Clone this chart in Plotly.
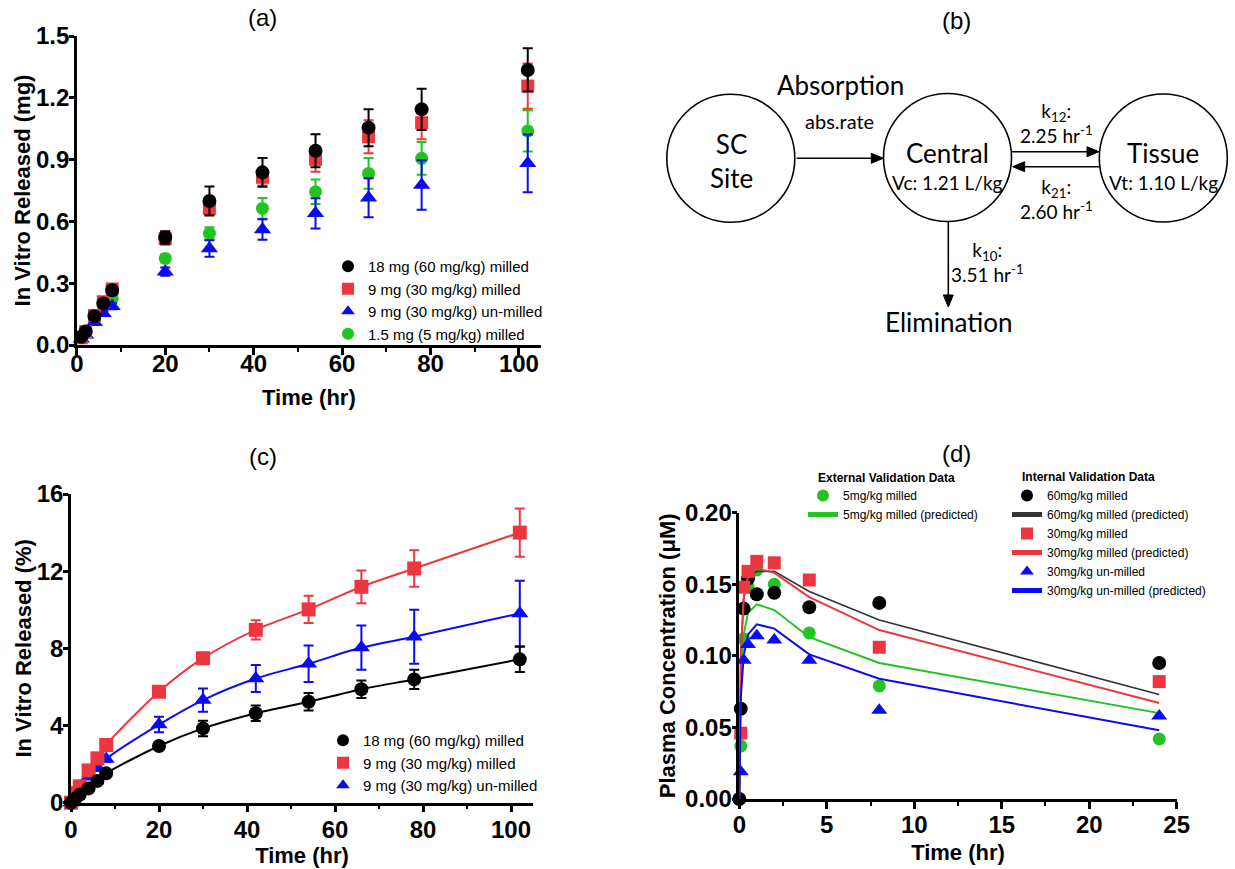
import plotly.graph_objects as go

W, H = 1235, 869

# ---------------- Panel (a): in vitro released (mg) ----------------
time_a = [1, 2, 4, 6, 8, 20, 30, 42, 54, 66, 78, 102]
a_labels = ["18 mg (60 mg/kg) milled", "9 mg (30 mg/kg) milled",
            "9 mg (30 mg/kg) un-milled", "1.5 mg (5 mg/kg) milled"]
a_black = [0.040, 0.066, 0.140, 0.202, 0.266, 0.522, 0.699, 0.838, 0.943, 1.055, 1.144, 1.335]
a_black_err = [0.005, 0.01, 0.01, 0.015, 0.02, 0.03, 0.07, 0.07, 0.08, 0.09, 0.10, 0.105]
a_red = [0.035, 0.065, 0.143, 0.210, 0.272, 0.517, 0.663, 0.814, 0.901, 1.011, 1.079, 1.257]
a_red_err = [0.005, 0.01, 0.01, 0.015, 0.02, 0.03, 0.03, 0.04, 0.06, 0.08, 0.08, 0.11]
a_blue = [0.030, 0.050, 0.110, 0.154, 0.188, 0.356, 0.469, 0.561, 0.639, 0.715, 0.777, 0.882]
a_blue_err = [0.005, 0.01, 0.01, 0.01, 0.015, 0.02, 0.04, 0.05, 0.073, 0.095, 0.12, 0.14]
a_green = [0.035, 0.060, 0.130, 0.190, 0.227, 0.420, 0.542, 0.663, 0.744, 0.833, 0.906, 1.039]
a_green_err = [0.005, 0.01, 0.01, 0.01, 0.015, 0.02, 0.03, 0.05, 0.06, 0.075, 0.08, 0.10]

# ---------------- Panel (c): in vitro released (%) ----------------
time_c = [0, 1, 2, 4, 6, 8, 20, 30, 42, 54, 66, 78, 102]
c_labels = ["18 mg (60 mg/kg) milled", "9 mg (30 mg/kg) milled", "9 mg (30 mg/kg) un-milled"]
c_black = [0, 0.22, 0.42, 0.74, 1.13, 1.52, 2.94, 3.85, 4.64, 5.23, 5.88, 6.39, 7.43]
c_black_err = [0, 0.05, 0.05, 0.08, 0.10, 0.12, 0.15, 0.40, 0.40, 0.45, 0.45, 0.50, 0.65]
c_red = [0, 0.50, 0.85, 1.67, 2.30, 2.99, 5.75, 7.49, 8.96, 10.02, 11.19, 12.14, 14.0]
c_red_err = [0, 0.05, 0.05, 0.10, 0.10, 0.15, 0.25, 0.25, 0.50, 0.70, 0.85, 0.95, 1.25]
c_blue = [0, 0.40, 0.74, 1.35, 1.78, 2.27, 4.05, 5.32, 6.44, 7.20, 8.04, 8.60, 9.81]
c_blue_err = [0, 0.05, 0.05, 0.10, 0.10, 0.15, 0.40, 0.60, 0.70, 0.95, 1.15, 1.40, 1.70]

# ---------------- Panel (d): plasma concentration ----------------
time_d = [0, 0.083, 0.25, 0.5, 1, 2, 4, 8, 24]
d_black = [0, 0.063, 0.133, 0.154, 0.143, 0.144, 0.134, 0.137, 0.095]
d_red = [None, 0.046, 0.148, 0.159, 0.166, 0.165, 0.153, 0.106, 0.082]
d_green = [None, 0.037, 0.112, 0.148, 0.160, 0.150, 0.116, 0.079, 0.042]
d_blue = [None, 0.019, 0.097, 0.108, 0.114, 0.111, 0.097, 0.062, 0.058]
d_black_pred = [0, 0.100, 0.140, 0.155, 0.159, 0.159, 0.145, 0.125, 0.073]
d_red_pred = [0, 0.100, 0.140, 0.156, 0.161, 0.158, 0.141, 0.118, 0.067]
d_green_pred = [0, 0.080, 0.115, 0.130, 0.136, 0.132, 0.113, 0.095, 0.060]
d_blue_pred = [0, 0.070, 0.100, 0.115, 0.122, 0.119, 0.101, 0.084, 0.048]
d_ext_labels = ["5mg/kg milled", "5mg/kg milled (predicted)"]
d_int_labels = ["60mg/kg milled", "60mg/kg milled (predicted)", "30mg/kg milled",
                "30mg/kg milled (predicted)", "30mg/kg un-milled", "30mg/kg un-milled (predicted)"]

BLACK = "#000000"
RED = "#EE3640"
BLUE = "#0A0AF5"
GREEN = "#22C422"
ARIAL = "Liberation Sans, Arial, sans-serif"
DIAG = "Lato, Noto Sans, sans-serif"

fig = go.Figure()


def add_points(x, y, err, color, symbol, size, name, xa, ya, legend, showlegend=True):
    fig.add_trace(go.Scatter(
        x=x, y=y, mode="markers", name=name, xaxis=xa, yaxis=ya, legend=legend,
        showlegend=showlegend, cliponaxis=False,
        marker=dict(symbol=symbol, size=size, color=color, line=dict(width=0)),
        error_y=(dict(type="data", array=err, visible=True, color=color, thickness=2, width=5)
                 if err is not None else None),
    ))


# panel (a) traces (drawn so black sits on top)
add_points(time_a, a_green, a_green_err, GREEN, "circle", 13, a_labels[3], "x", "y", "legend")
add_points(time_a, a_blue, a_blue_err, BLUE, "triangle-up", 15, a_labels[2], "x", "y", "legend")
add_points(time_a, a_red, a_red_err, RED, "square", 13, a_labels[1], "x", "y", "legend")
add_points(time_a, a_black, a_black_err, BLACK, "circle", 14, a_labels[0], "x", "y", "legend")

# panel (c) fitted lines + points
for yv, col in [(c_black, BLACK), (c_red, RED), (c_blue, BLUE)]:
    fig.add_trace(go.Scatter(x=time_c, y=yv, mode="lines", xaxis="x2", yaxis="y2",
                             line=dict(color=col, width=2, shape="spline", smoothing=0.8),
                             showlegend=False, hoverinfo="skip"))
add_points(time_c, c_blue, c_blue_err, BLUE, "triangle-up", 15, c_labels[2], "x2", "y2", "legend2")
add_points(time_c, c_red, c_red_err, RED, "square", 14, c_labels[1], "x2", "y2", "legend2")
add_points(time_c, c_black, c_black_err, BLACK, "circle", 14, c_labels[0], "x2", "y2", "legend2")

# panel (d)
fig.add_trace(go.Scatter(x=time_d, y=d_green, mode="markers", name=d_ext_labels[0],
                         xaxis="x3", yaxis="y3", legend="legend3", cliponaxis=False,
                         marker=dict(symbol="circle", size=13, color=GREEN)))
fig.add_trace(go.Scatter(x=time_d, y=d_green_pred, mode="lines", name=d_ext_labels[1],
                         xaxis="x3", yaxis="y3", legend="legend3",
                         line=dict(color=GREEN, width=2)))
fig.add_trace(go.Scatter(x=time_d, y=d_black, mode="markers", name=d_int_labels[0],
                         xaxis="x3", yaxis="y3", legend="legend4", cliponaxis=False,
                         marker=dict(symbol="circle", size=14, color=BLACK)))
fig.add_trace(go.Scatter(x=time_d, y=d_black_pred, mode="lines", name=d_int_labels[1],
                         xaxis="x3", yaxis="y3", legend="legend4",
                         line=dict(color="#333333", width=1.6)))
fig.add_trace(go.Scatter(x=time_d, y=d_red, mode="markers", name=d_int_labels[2],
                         xaxis="x3", yaxis="y3", legend="legend4", cliponaxis=False,
                         marker=dict(symbol="square", size=13, color=RED)))
fig.add_trace(go.Scatter(x=time_d, y=d_red_pred, mode="lines", name=d_int_labels[3],
                         xaxis="x3", yaxis="y3", legend="legend4",
                         line=dict(color=RED, width=2)))
fig.add_trace(go.Scatter(x=time_d, y=d_blue, mode="markers", name=d_int_labels[4],
                         xaxis="x3", yaxis="y3", legend="legend4", cliponaxis=False,
                         marker=dict(symbol="triangle-up", size=14, color=BLUE)))
fig.add_trace(go.Scatter(x=time_d, y=d_blue_pred, mode="lines", name=d_int_labels[5],
                         xaxis="x3", yaxis="y3", legend="legend4",
                         line=dict(color=BLUE, width=2)))

tickfont = dict(family=ARIAL, size=24, color="black", weight="bold")
titlefont = dict(family=ARIAL, size=22, color="black", weight="bold")


def xax(domain, rng, dtick, minor, anchor, standoff, lblshift):
    return dict(domain=domain, range=rng, anchor=anchor, dtick=dtick, tick0=0,
                automargin=False, ticklabelstandoff=lblshift,
                showline=True, linecolor="black", linewidth=2.5, ticks="outside",
                ticklen=7, tickwidth=2.5, tickcolor="black", showgrid=False, zeroline=False,
                tickfont=tickfont,
                minor=dict(dtick=minor, tick0=0, ticks="outside", ticklen=4, tickwidth=2,
                           tickcolor="black", showgrid=False),
                title=dict(text="Time (hr)", font=titlefont, standoff=standoff))


def yax(domain, rng, dtick, fmt, title, anchor, standoff):
    return dict(domain=domain, range=rng, anchor=anchor, dtick=dtick, tick0=0,
                automargin=False, ticklabelstandoff=-5,
                tickformat=fmt, showline=True, linecolor="black", linewidth=2.5,
                ticks="outside", ticklen=5, tickwidth=2.5, tickcolor="black",
                showgrid=False, zeroline=False, tickfont=tickfont,
                title=dict(text=title, font=titlefont, standoff=standoff))


def px(xp):
    return xp / W


def py(yp):
    return 1 - yp / H


layout = dict(
    width=W, height=H, margin=dict(l=0, r=0, t=0, b=0, pad=0, autoexpand=False),
    paper_bgcolor="white", plot_bgcolor="rgba(0,0,0,0)",
    xaxis=xax([px(76.8), px(541)], [0, 105], 20, 10, "y", 15, -12),
    yaxis=yax([py(345), py(36)], [0, 1.5], 0.3, ".1f", "In Vitro Released (mg)", "x", 0),
    xaxis2=xax([px(71), px(533)], [0, 105], 20, 10, "y2", 2, -3),
    yaxis2=yax([py(802.7), py(494)], [0, 16], 4, "d", "In Vitro Released (%)", "x2", 0),
    xaxis3=xax([px(739.3), px(1176.7)], [0, 25], 5, 2.5, "y3", 9, -5),
    yaxis3=yax([py(799), py(512.7)], [0, 0.2], 0.05, ".2f", "Plasma Concentration (μM)", "x3", 4),
    xaxis4=dict(domain=[0, 1], range=[0, W], visible=False, anchor="y4", fixedrange=True,
                automargin=False),
    yaxis4=dict(domain=[0, 1], range=[H, 0], visible=False, anchor="x4", fixedrange=True,
                automargin=False),
    legend=dict(x=px(328), y=py(250), xanchor="left", yanchor="top", bgcolor="rgba(0,0,0,0)",
                font=dict(family=ARIAL, size=15, color="black"), traceorder="reversed",
                itemsizing="constant"),
    legend2=dict(x=px(323), y=py(724), xanchor="left", yanchor="top", bgcolor="rgba(0,0,0,0)",
                 font=dict(family=ARIAL, size=15, color="black"), traceorder="reversed",
                 itemsizing="constant"),
    legend3=dict(x=px(803), y=py(481), xanchor="left", yanchor="top", bgcolor="rgba(0,0,0,0)",
                 font=dict(family=ARIAL, size=12, color="black"), traceorder="normal",
                 itemsizing="constant"),
    legend4=dict(x=px(1007), y=py(481), xanchor="left", yanchor="top", bgcolor="rgba(0,0,0,0)",
                 font=dict(family=ARIAL, size=12, color="black"), traceorder="normal",
                 itemsizing="constant"),
    showlegend=True,
)
fig.update_layout(**layout)

ann = []


def text(x, y, s, size, family=DIAG, xanchor="center", bold=False):
    ann.append(dict(x=x, y=y, xref="x4", yref="y4", text=s, showarrow=False,
                    xanchor=xanchor, yanchor="middle", align="center",
                    font=dict(family=family, size=size, color="black",
                              weight="bold" if bold else "normal")))


# panel labels
text(262, 17, "(a)", 24, ARIAL)
text(956.7, 20, "(b)", 24, ARIAL)
text(263, 456, "(c)", 24, ARIAL)
text(956.7, 453, "(d)", 24, ARIAL)

# panel (d) legend headings
text(816, 478, "External Validation Data", 12, ARIAL, "left", True)
text(1020, 477, "Internal Validation Data", 12, ARIAL, "left", True)

# panel (b) diagram
R = 64
shapes = []
for cx, cy in [(730.8, 158.3), (947.5, 157.5), (1163.3, 158)]:
    shapes.append(dict(type="circle", xref="x4", yref="y4", x0=cx - R, x1=cx + R,
                       y0=cy - R, y1=cy + R, line=dict(color="black", width=1.6)))

text(731.7, 160.8, "SC<br>Site", 26)
text(840, 85, "Absorption", 26)
text(839.3, 121, "abs.rate", 20)
text(947.3, 153.3, "Central", 26)
text(947.3, 182.7, "Vc: 1.21 L/kg", 19)
text(1163.3, 153.3, "Tissue", 26)
text(1163.3, 182.7, "Vt: 1.10 L/kg", 19)
text(1056, 123, "k<sub>12</sub>:<br>2.25 hr<sup>-1</sup>", 19)
text(1056, 199, "k<sub>21</sub>:<br>2.60 hr<sup>-1</sup>", 19)
text(987, 262, "k<sub>10</sub>:<br>3.51 hr<sup>-1</sup>", 19)
text(948.3, 321.7, "Elimination", 26)


def arrow(x0, y0, x1, y1, head=12, half=5):
    dx, dy = x1 - x0, y1 - y0
    L = (dx * dx + dy * dy) ** 0.5
    ux, uy = dx / L, dy / L
    bx, by = x1 - ux * head, y1 - uy * head
    shapes.append(dict(type="line", xref="x4", yref="y4", x0=x0, y0=y0, x1=bx, y1=by,
                       line=dict(color="black", width=1.6)))
    nx, ny = -uy, ux
    path = (f"M {x1},{y1} L {bx + nx * half},{by + ny * half} "
            f"L {bx - nx * half},{by - ny * half} Z")
    shapes.append(dict(type="path", xref="x4", yref="y4", path=path,
                       fillcolor="black", line=dict(color="black", width=1)))


arrow(796.7, 158.3, 883.3, 158.3)
arrow(1011.7, 151.7, 1099, 151.7)
arrow(1100, 166.7, 1012.7, 166.7)
arrow(948.3, 222, 948.3, 307)

fig.update_layout(annotations=ann, shapes=shapes)
fig.write_html("out.html", config={"displayModeBar": False},
               post_script="document.body.style.margin='0px';document.body.style.padding='0px';")
